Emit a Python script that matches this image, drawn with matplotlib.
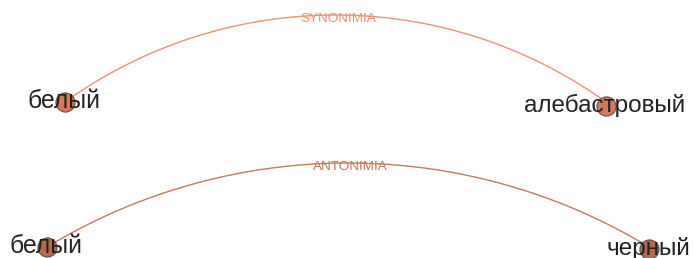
import numpy as np
import matplotlib.pyplot as plt

# two small graphs: word pairs linked by a relation
words_left = ["белый", "белый"]
words_right = ["алебастровый", "черный"]
relations = ["SYNONIMIA", "ANTONIMIA"]

# node positions in pixels (x, y from top)
left_xy = [(65, 102), (47, 247)]
right_xy = [(606, 106), (649, 249)]
arc_top = [15, 163]

edge_colors = ["#ea9272", "#c47a5c"]
node_colors = ["#d8765a", "#b56a50"]


def arc_points(p0, p1, ytop):
    # circle through both nodes with its top at ytop
    xc = (p0[0] + p1[0]) / 2
    x0, y0 = p0
    yc = ((xc - x0) ** 2 + y0 ** 2 - ytop ** 2) / (2 * (y0 - ytop))
    r = yc - ytop
    a0 = np.arctan2(y0 - yc, x0 - xc)
    a1 = np.arctan2(p1[1] - yc, p1[0] - xc)
    if a0 > 0:
        a0 -= 2 * np.pi
    if a1 > 0:
        a1 -= 2 * np.pi
    t = np.linspace(a0, a1, 200)
    return xc + r * np.cos(t), yc + r * np.sin(t)


fig = plt.figure(figsize=(6.95, 2.58), dpi=100)
ax = fig.add_axes([0, 0, 1, 1])
ax.set_xlim(0, 695)
ax.set_ylim(258, 0)
ax.axis("off")

for i in range(len(relations)):
    xs, ys = arc_points(left_xy[i], right_xy[i], arc_top[i])
    ax.plot(xs, ys, color=edge_colors[i], lw=1.0, zorder=1)
    mid = len(xs) // 2
    ax.text(xs[mid], ys[mid] + 4, relations[i], fontsize=9.7, color=edge_colors[i],
            ha="center", va="center", family="Liberation Sans", zorder=2)
    for (x, y) in (left_xy[i], right_xy[i]):
        ax.scatter([x], [y], s=190, color=node_colors[i], edgecolors="#555555",
                   linewidths=0.8, zorder=3)
    ax.text(left_xy[i][0] - 1, left_xy[i][1] + 6, words_left[i], fontsize=17.8,
            color="#222222", ha="center", va="baseline", family="Liberation Sans", zorder=4)
    ax.text(right_xy[i][0] - 1, right_xy[i][1] + 6, words_right[i], fontsize=17.5,
            color="#222222", ha="center", va="baseline", family="Liberation Sans", zorder=4)

fig.savefig("out.png", dpi=100)
